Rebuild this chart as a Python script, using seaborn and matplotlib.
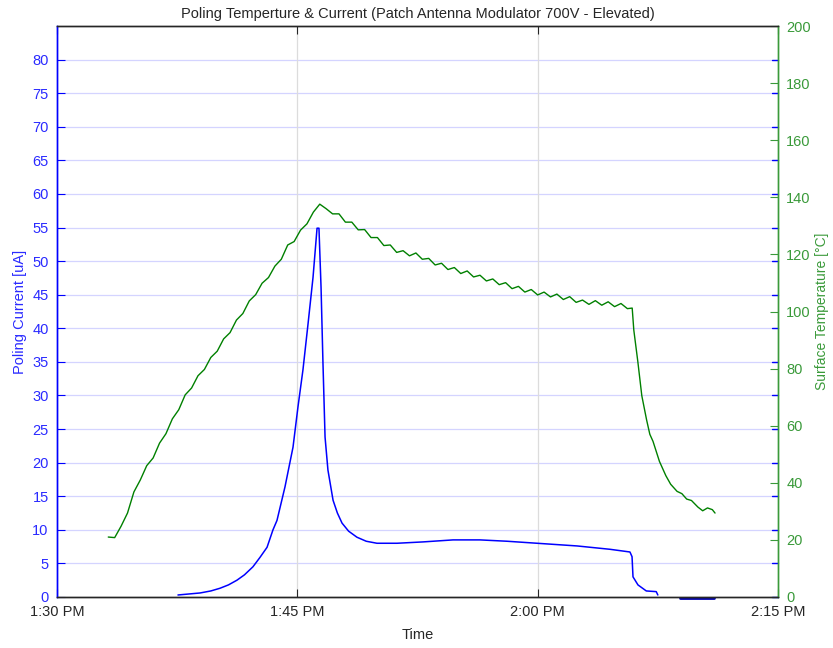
import numpy as np
import pandas as pd
import matplotlib
matplotlib.use("Agg")
import matplotlib.pyplot as plt
import seaborn as sns

# ---- data (time in minutes after 1:30 PM) ----
current_t = [7.55, 8.93, 9.60, 10.17, 10.70, 11.23, 11.70, 12.23, 12.67, 13.11, 13.48, 13.73,
             14.23, 14.73, 15.04, 15.35, 15.67, 15.98, 16.23, 16.35, 16.48, 16.60, 16.73,
             16.91, 17.23, 17.50, 17.79, 18.20, 18.72, 19.30, 19.97, 21.22, 22.84, 24.72,
             26.40, 28.09, 29.96, 32.46, 34.52, 35.76, 35.89, 35.95, 36.26, 36.78, 37.40,
             37.50]
current_v = [0.3, 0.6, 0.9, 1.3, 1.8, 2.5, 3.3, 4.5, 5.9, 7.4, 10.0, 11.4,
             16.4, 22.3, 28.3, 33.8, 40.7, 47.6, 54.9, 54.9, 46.1, 34.8, 23.8,
             18.9, 14.4, 12.5, 11.0, 9.8, 8.9, 8.3, 8.0, 8.0, 8.2, 8.5,
             8.5, 8.3, 8.0, 7.6, 7.1, 6.7, 6.0, 3.0, 1.8, 0.9, 0.8,
             0.3]
current_tail_t = [38.9, 41.0]
current_tail_v = [-0.1, -0.1]

temp_t = [3.2, 3.6, 4.0, 4.4, 4.8, 5.2, 5.6, 6.0, 6.4, 6.8, 7.2, 7.6, 8.0, 8.4, 8.8, 9.2,
          9.6, 10.0, 10.4, 10.8, 11.2, 11.6, 12.0, 12.4, 12.8, 13.2, 13.6, 14.0, 14.4,
          14.8, 15.2, 15.6, 16.0, 16.4, 16.8, 17.2, 17.6, 18.0, 18.4, 18.8, 19.2, 19.6,
          20.0, 20.4, 20.8, 21.2, 21.6, 22.0, 22.4, 22.8, 23.2, 23.6, 24.0, 24.4, 24.8,
          25.2, 25.6, 26.0, 26.4, 26.8, 27.2, 27.6, 28.0, 28.4, 28.8, 29.2, 29.6, 30.0,
          30.4, 30.8, 31.2, 31.6, 32.0, 32.4, 32.8, 33.2, 33.6, 34.0, 34.4, 34.8, 35.2,
          35.6, 35.9, 36.0, 36.25, 36.5, 36.8, 37.0, 37.2, 37.6, 38.0, 38.3, 38.7, 39.0,
          39.3, 39.6, 40.0, 40.3, 40.6, 40.9, 41.07]
temp_v = [21.0, 20.8, 24.8, 29.4, 36.8, 41.0, 46.0, 48.7, 53.9, 57.2, 62.4, 65.6, 70.8,
          73.2, 77.5, 79.7, 83.9, 86.1, 90.4, 92.6, 97.0, 99.3, 103.7, 105.9, 109.9,
          111.9, 115.9, 118.3, 123.3, 124.5, 128.5, 130.7, 134.8, 137.6, 136.0,
          134.2, 134.2, 131.3, 131.3, 128.6, 128.7, 125.9, 125.9, 123.1, 123.3, 120.7,
          121.3, 119.5, 120.5, 118.3, 118.6, 116.3, 116.9, 114.7, 115.4, 113.3, 114.2,
          112.1, 112.7, 110.7, 111.4, 109.4, 110.1, 108.0, 108.8, 106.8, 107.7, 105.8,
          106.8, 105.1, 106.1, 104.2, 105.2, 103.2, 104.0, 102.5, 103.8, 102.2, 103.4,
          101.7, 102.8, 101.0, 101.2, 93.5, 82.5, 70.5, 62.0, 57.0, 54.5, 47.5, 42.5,
          39.5, 37.0, 36.2, 34.3, 33.8, 31.5, 30.2, 31.2, 30.6, 29.4]

x_ticks = [0, 15, 30, 45]
x_labels = ["1:30 PM", "1:45 PM", "2:00 PM", "2:15 PM"]

title = "Poling Temperture & Current (Patch Antenna Modulator 700V - Elevated)"

# ---- styling ----
sns.set_style("white")
plt.rcParams["font.family"] = ["Liberation Sans", "DejaVu Sans"]

BLUE = "#0000ff"
BLUE_TXT = "#2a2aff"
GREEN = "#008000"
GREEN_AX = "#3a9a3a"
DARK = "#262626"

fig = plt.figure(figsize=(8.33, 6.48), dpi=100)
ax = fig.add_axes([57 / 833, 1 - 597 / 648, (778 - 57) / 833, (597 - 26) / 648])
ax2 = ax.twinx()

df_c = pd.DataFrame({"t": current_t, "v": current_v})
df_c2 = pd.DataFrame({"t": current_tail_t, "v": current_tail_v})
df_T = pd.DataFrame({"t": temp_t, "v": temp_v})

sns.lineplot(data=df_c, x="t", y="v", ax=ax, color=BLUE, lw=1.1, sort=False)
sns.lineplot(data=df_c2, x="t", y="v", ax=ax, color="#0000b0", lw=2.0, sort=False, clip_on=False)
sns.lineplot(data=df_T, x="t", y="v", ax=ax2, color=GREEN, lw=1.0, sort=False)

ax.set_xlim(0, 45)
ax.set_ylim(0, 85)
ax2.set_ylim(0, 200)

ax.set_xticks(x_ticks)
ax.set_xticklabels(x_labels)
ax.set_yticks(np.arange(0, 81, 5))
ax2.set_yticks(np.arange(0, 201, 20))

# grids
ax.grid(False)
ax2.grid(False)
for yv in np.arange(5, 81, 5):
    ax.axhline(yv, color="#d4d4ff", lw=0.9, zorder=0)
for xv in x_ticks[1:-1]:
    ax.axvline(xv, color="#dcdcdc", lw=0.9, zorder=0)

# ticks
ax.tick_params(axis="x", direction="in", length=6, colors=DARK, labelsize=10.5,
               top=True, bottom=True, pad=6)
ax.tick_params(axis="y", direction="in", length=6, colors=BLUE, labelcolor=BLUE_TXT,
               labelsize=10.5, left=True, right=False, pad=6)
ax2.tick_params(axis="y", direction="in", length=6, colors=GREEN_AX, labelsize=10.5,
                right=True, left=False, pad=6)
# mirror blue ticks on the right side
for yv in np.arange(0, 81, 5):
    ax.plot([45 - 0.37, 45], [yv, yv], color=BLUE, lw=1.0, clip_on=False, zorder=5)

for a in (ax, ax2):
    a.spines["top"].set_color(DARK)
    a.spines["bottom"].set_color(DARK)
    a.spines["left"].set_color(BLUE)
    a.spines["right"].set_color(GREEN_AX)
    for s in a.spines.values():
        s.set_linewidth(1.0)
        s.set_visible(True)

ax.set_xlabel("Time", fontsize=10.5, color=DARK, labelpad=6)
ax.set_ylabel("Poling Current [uA]", fontsize=10.5, color=BLUE_TXT, labelpad=4)
ax2.set_ylabel("Surface Temperature [°C]", fontsize=10, color=GREEN_AX, labelpad=3)
ax.set_title(title, fontsize=10.5, color=DARK, pad=6)

fig.savefig("out.png", dpi=100)
